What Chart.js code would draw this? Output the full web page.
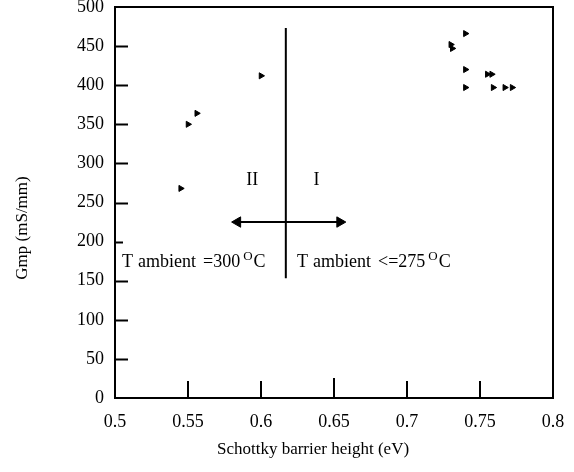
<!DOCTYPE html>
<html>
<head>
<meta charset="utf-8">
<script src="https://cdn.jsdelivr.net/npm/chart.js@4/dist/chart.umd.min.js"></script>
<style>
  html, body { margin: 0; padding: 0; background: #fff; }
  #wrap { width: 574px; height: 472px; }
</style>
</head>
<body>
<div id="wrap"><canvas id="gmpChart" width="574" height="472"></canvas></div>
<script>
// values
const barrierHeight = [0.545, 0.55, 0.556, 0.6, 0.73, 0.731, 0.740, 0.740, 0.740, 0.755, 0.758, 0.759, 0.767, 0.772];
const gmp           = [268,   350,  364,   412, 452,  447,   466,   420,   397,   414,   414,   397,   397,   397];

const xTicks = [0.5, 0.55, 0.6, 0.65, 0.7, 0.75, 0.8];
const yTicks = [0, 50, 100, 150, 200, 250, 300, 350, 400, 450, 500];

// region divider and the two-way arrow
const dividerX = [0.617, 0.617];
const dividerY = [473, 153];
const arrowX = [0.584, 0.654];
const arrowY = [225, 225];

const serif = '"Liberation Serif", "Times New Roman", serif';

function pairs(xs, ys) {
    return xs.map(function (x, i) { return { x: x, y: ys[i] }; });
}

// draws "T ambient =300 °C" style label, left/baseline at px
function tempLabel(ctx, px, py, mid) {
    let x = px;
    ctx.textAlign = "left";
    ctx.textBaseline = "alphabetic";
    ctx.font = "18px " + serif;
    ctx.fillText("T", x, py);
    x += ctx.measureText("T").width + 5;
    ctx.fillText("ambient", x, py);
    x += ctx.measureText("ambient").width + 7;
    ctx.fillText(mid, x, py);
    x += ctx.measureText(mid).width + 3;
    ctx.font = "13px " + serif;
    ctx.fillText("O", x, py - 7);
    x += ctx.measureText("O").width + 1;
    ctx.font = "18px " + serif;
    ctx.fillText("C", x, py);
}

const framePlugin = {
    id: "framePlugin",
    afterDraw: function (chart) {
        const ctx = chart.ctx;
        const a = chart.chartArea;
        const xs = chart.scales.x;
        const ys = chart.scales.y;
        ctx.save();
        ctx.strokeStyle = "#000";
        ctx.fillStyle = "#000";

        // box
        ctx.lineWidth = 2;
        ctx.strokeRect(a.left, a.top, a.right - a.left, a.bottom - a.top);

        // inward ticks
        yTicks.forEach(function (v) {
            if (v === 0 || v === 500) return;
            const py = Math.round(ys.getPixelForValue(v)) + 0.5;
            ctx.beginPath();
            ctx.moveTo(a.left, py);
            ctx.lineTo(a.left + (v === 200 ? 8 : 13), py);
            ctx.stroke();
        });
        xTicks.forEach(function (v) {
            if (v === 0.5 || v === 0.8) return;
            const px = Math.round(xs.getPixelForValue(v));
            ctx.beginPath();
            ctx.moveTo(px, a.bottom);
            ctx.lineTo(px, a.bottom - (v === 0.65 ? 20 : 17));
            ctx.stroke();
        });

        // region labels
        ctx.font = "18px " + serif;
        ctx.textAlign = "center";
        ctx.textBaseline = "middle";
        ctx.fillText("II", xs.getPixelForValue(0.594), ys.getPixelForValue(279));
        ctx.fillText("I", xs.getPixelForValue(0.638), ys.getPixelForValue(279));

        tempLabel(ctx, xs.getPixelForValue(0.5048), ys.getPixelForValue(167), "=300");
        tempLabel(ctx, xs.getPixelForValue(0.6247), ys.getPixelForValue(167), "<=275");

        // axis titles
        ctx.font = "17px " + serif;
        ctx.textAlign = "center";
        ctx.textBaseline = "middle";
        ctx.fillText("Schottky barrier height (eV)", 313, 450);
        ctx.translate(23, 228);
        ctx.rotate(-Math.PI / 2);
        ctx.fillText("Gmp (mS/mm)", 0, 0);
        ctx.restore();
    }
};

const canvas = document.getElementById("gmpChart");

new Chart(canvas, {
    type: 'scatter',
    data: {
        datasets: [
            {
                label: 'Gmp',
                data: pairs(barrierHeight, gmp),
                pointStyle: 'triangle',
                rotation: 90,
                radius: 3.5,
                backgroundColor: '#000',
                borderColor: '#000',
                borderWidth: 1
            },
            {
                label: 'divider',
                data: pairs(dividerX, dividerY),
                showLine: true,
                pointRadius: 0,
                borderColor: '#000',
                borderWidth: 2
            },
            {
                label: 'arrow',
                data: pairs(arrowX, arrowY),
                showLine: true,
                pointStyle: 'triangle',
                pointRadius: 6,
                pointRotation: [-90, 90],
                pointBackgroundColor: '#000',
                pointBorderColor: '#000',
                pointBorderWidth: 1,
                borderColor: '#000',
                borderWidth: 2
            }
        ]
    },
    options: {
        responsive: false,
        animation: false,
        devicePixelRatio: 1,
        layout: { padding: { left: 0, top: 5, right: 21, bottom: 0 } },
        plugins: {
            legend: { display: false },
            tooltip: { enabled: false }
        },
        scales: {
            x: {
                type: 'linear',
                min: 0.5,
                max: 0.8,
                grid: { display: false, drawTicks: false },
                border: { display: false },
                afterBuildTicks: function (s) { s.ticks = xTicks.map(function (v) { return { value: v }; }); },
                afterFit: function (s) { s.height = 74; s.paddingLeft = 0; s.paddingRight = 0; },
                ticks: {
                    autoSkip: false,
                    maxRotation: 0,
                    padding: 13,
                    color: '#000',
                    font: { family: serif, size: 18 },
                    callback: function (v) { return String(v); }
                }
            },
            y: {
                min: 0,
                max: 500,
                grid: { display: false, drawTicks: false },
                border: { display: false },
                afterBuildTicks: function (s) { s.ticks = yTicks.map(function (v) { return { value: v }; }); },
                afterFit: function (s) { s.width = 115; s.paddingTop = 0; s.paddingBottom = 0; },
                ticks: {
                    autoSkip: false,
                    padding: 11,
                    color: '#000',
                    font: { family: serif, size: 18 },
                    callback: function (v) { return String(v); }
                }
            }
        }
    },
    plugins: [framePlugin]
});
</script>
</body>
</html>
